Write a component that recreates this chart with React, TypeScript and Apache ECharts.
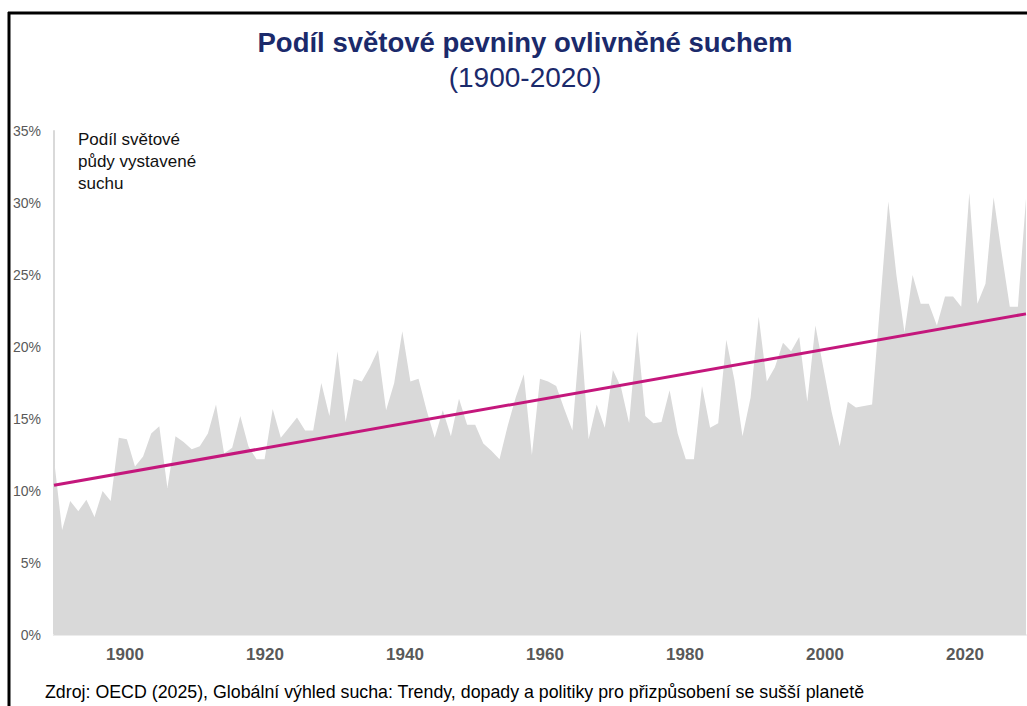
import React, { useEffect, useRef } from "react";
import * as echarts from "echarts";

// Categories: one per year, 1900-2020
const firstYear = 1900;
const lastYear = 2020;
const years: string[] = [];
for (let y = firstYear; y <= lastYear; y++) years.push(String(y));

// Share of global land affected by drought (%)
const share1900s = [12.2, 7.3, 9.3, 8.6, 9.4, 8.2, 10.0, 9.3, 13.7, 13.6];
const share1910s = [11.7, 12.4, 14.0, 14.5, 10.2, 13.8, 13.4, 12.9, 13.1, 14.0];
const share1920s = [16.0, 12.6, 13.0, 15.2, 13.1, 12.2, 12.2, 15.7, 13.7, 14.4];
const share1930s = [15.1, 14.2, 14.2, 17.5, 15.2, 19.7, 14.8, 17.8, 17.6, 18.6];
const share1940s = [19.8, 15.6, 17.5, 21.1, 17.6, 17.8, 15.6, 13.7, 15.6, 13.8];
const share1950s = [16.4, 14.6, 14.6, 13.3, 12.8, 12.2, 14.5, 16.5, 18.1, 12.5];
const share1960s = [17.8, 17.6, 17.3, 15.7, 14.2, 21.2, 13.6, 16.0, 14.4, 18.4];
const share1970s = [17.2, 14.7, 21.1, 15.2, 14.7, 14.8, 17.0, 14.0, 12.2, 12.2];
const share1980s = [17.3, 14.4, 14.7, 20.5, 17.7, 13.8, 16.5, 22.1, 17.6, 18.6];
const share1990s = [20.3, 19.7, 20.7, 16.2, 21.5, 18.5, 15.5, 13.1, 16.2, 15.8];
const share2000s = [15.9, 16.0, 23.0, 30.1, 25.0, 21.0, 25.0, 23.0, 23.0, 21.5];
const share2010s = [23.5, 23.5, 22.8, 30.7, 23.0, 24.4, 30.4, 26.5, 22.8, 22.8];
const share2020s = [30.3];

const droughtShare = [
  ...share1900s, ...share1910s, ...share1920s, ...share1930s, ...share1940s,
  ...share1950s, ...share1960s, ...share1970s, ...share1980s, ...share1990s,
  ...share2000s, ...share2010s, ...share2020s,
];

// Linear trend: values at the first and last year
const trendEnds = [10.4, 22.3];

// Axis tick labels
const xTickLabels = [1900, 1920, 1940, 1960, 1980, 2000, 2020];
const yMin = 0;
const yMax = 35;
const yStep = 5;

const FONT = "'Liberation Sans', Arial, Helvetica, sans-serif";

export default function App() {
  const ref = useRef<HTMLDivElement>(null);

  useEffect(() => {
    if (!ref.current) return;
    const chart = echarts.init(ref.current, null, { renderer: "svg" });
    chart.setOption({
      animation: false,
      backgroundColor: "#ffffff",
      textStyle: { fontFamily: FONT },
      grid: { left: 54, right: 1, top: 131, bottom: 71, containLabel: false },
      xAxis: [
        {
          type: "category",
          data: years,
          boundaryGap: false,
          show: false,
        },
        {
          type: "value",
          position: "bottom",
          min: 1889.857,
          max: 2028.714,
          axisLine: { show: true, lineStyle: { color: "#ececec", width: 2 } },
          axisTick: { show: false },
          splitLine: { show: false },
          axisLabel: {
            customValues: xTickLabels,
            color: "#595959",
            fontSize: 17,
            fontWeight: "bold",
            fontFamily: FONT,
            margin: 11,
            formatter: (v: number) => String(Math.round(v)),
          },
        },
      ],
      yAxis: {
        type: "value",
        min: yMin,
        max: yMax,
        interval: yStep,
        axisLine: { show: true, lineStyle: { color: "#d9d9d9", width: 2 } },
        axisTick: { show: false },
        splitLine: { show: false },
        axisLabel: {
          formatter: "{value}%",
          color: "#595959",
          fontSize: 14,
          fontFamily: FONT,
          margin: 13,
        },
      },
      series: [
        {
          type: "line",
          xAxisIndex: 0,
          data: droughtShare,
          symbol: "none",
          lineStyle: { width: 0 },
          areaStyle: { color: "#d9d9d9", opacity: 1 },
          z: 1,
        },
        {
          type: "line",
          xAxisIndex: 0,
          data: [
            [years[0], trendEnds[0]],
            [years[years.length - 1], trendEnds[1]],
          ],
          symbol: "none",
          lineStyle: { color: "#c4177c", width: 3 },
          z: 3,
        },
      ],
      graphic: [
        {
          type: "line",
          shape: { x1: 9, y1: 12, x2: 9, y2: 706 },
          style: { stroke: "#000000", lineWidth: 3 },
        },
        {
          type: "line",
          shape: { x1: 8, y1: 13, x2: 1027, y2: 13 },
          style: { stroke: "#000000", lineWidth: 3 },
        },
        {
          type: "text",
          style: {
            x: 525,
            y: 42,
            text: "Podíl světové pevniny ovlivněné suchem",
            fontFamily: FONT,
            fontSize: 27.5,
            fontWeight: "bold",
            fill: "#1b2a6b",
            textAlign: "center",
            textVerticalAlign: "middle",
          },
        },
        {
          type: "text",
          style: {
            x: 525,
            y: 77,
            text: "(1900-2020)",
            fontFamily: FONT,
            fontSize: 28,
            fill: "#1b2a6b",
            textAlign: "center",
            textVerticalAlign: "middle",
          },
        },
        {
          type: "text",
          style: {
            x: 78,
            y: 128,
            text: "Podíl světové\npůdy vystavené\nsuchu",
            fontFamily: FONT,
            fontSize: 17,
            lineHeight: 22,
            fill: "#111111",
            textAlign: "left",
            textVerticalAlign: "top",
          },
        },
        {
          type: "text",
          style: {
            x: 45,
            y: 692,
            text: "Zdroj: OECD (2025), Globální výhled sucha: Trendy, dopady a politiky pro přizpůsobení se sušší planetě",
            fontFamily: FONT,
            fontSize: 17.8,
            fill: "#000000",
            textAlign: "left",
            textVerticalAlign: "middle",
          },
        },
      ],
    });
    return () => chart.dispose();
  }, []);

  return (
    <div
      ref={ref}
      style={{ position: "fixed", left: 0, top: 0, width: 1027, height: 706, background: "#fff" }}
    />
  );
}
